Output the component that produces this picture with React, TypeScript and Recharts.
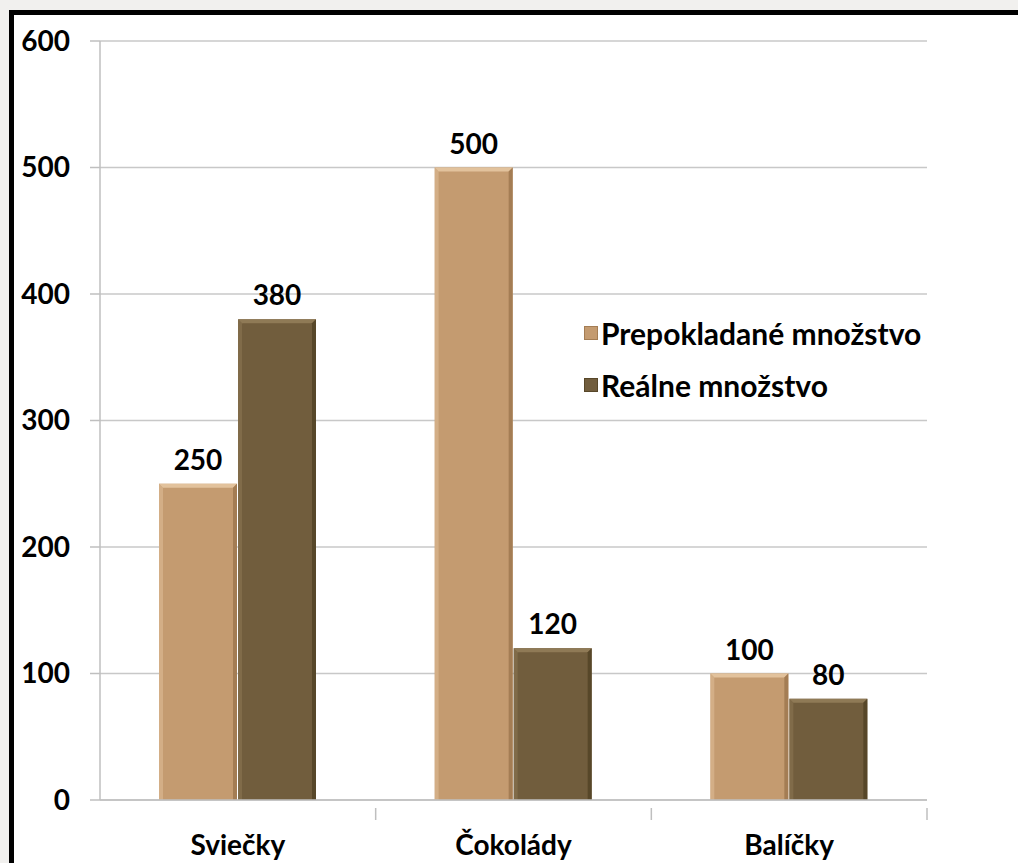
import { BarChart, Bar, XAxis, YAxis, CartesianGrid, LabelList } from "recharts";

const categories = ["Sviečky", "Čokolády", "Balíčky"];
const expected = [250, 500, 100];
const actual = [380, 120, 80];
const yTicks = [0, 100, 200, 300, 400, 500, 600];

const seriesNames = ["Prepokladané množstvo", "Reálne množstvo"];
const palette = [
  { fill: "#c49b70", light: "#e2c29c", dark: "#a47d54" },
  { fill: "#715d3d", light: "#8f7a56", dark: "#574729" },
];

const data = categories.map((name, i) => ({
  name,
  expected: expected[i],
  actual: actual[i],
}));

const W = 1018;
const H = 863;
const margin = { top: 41, right: 91, left: 0, bottom: 0 };
const yAxisWidth = 100;
const bandHalf = (W - margin.right - yAxisWidth) / categories.length / 2;
const font = "Lato, 'Open Sans', sans-serif";
const fs = 28;

const bevel = (colors: { fill: string; light: string; dark: string }) => (props: any) => {
  const { x, y, width, height } = props;
  if (!height || height <= 0) return <g />;
  const b = 4;
  return (
    <g>
      <rect x={x} y={y} width={width} height={height} fill={colors.fill} />
      <polygon
        points={`${x},${y} ${x + width},${y} ${x + width - b},${y + b} ${x + b},${y + b}`}
        fill={colors.light}
      />
      <polygon
        points={`${x},${y} ${x + b},${y + b} ${x + b},${y + height} ${x},${y + height}`}
        fill={colors.light}
        opacity={0.5}
      />
      <polygon
        points={`${x + width},${y} ${x + width},${y + height} ${x + width - b},${y + height} ${x + width - b},${y + b}`}
        fill={colors.dark}
      />
    </g>
  );
};

const CategoryTick = (props: any) => {
  const { x, y, payload } = props;
  return (
    <g>
      <line x1={x + bandHalf} y1={y} x2={x + bandHalf} y2={y + 12} stroke="#bfbfbf" strokeWidth={1.5} />
      <text x={x} y={y + 47} textAnchor="middle" fontSize={fs} fontWeight="bold" fontFamily={font} fill="#000">
        {payload.value}
      </text>
    </g>
  );
};

export default function App() {
  return (
    <div
      style={{
        position: "fixed",
        inset: 0,
        background: "#f1f0ee",
        overflow: "hidden",
        fontFamily: font,
      }}
    >
      <div
        style={{
          position: "absolute",
          left: 9,
          top: 10,
          width: 2000,
          height: 2000,
          background: "#fff",
          border: "5px solid #000",
        }}
      />
      <div style={{ position: "absolute", left: 0, top: 0 }}>
        <BarChart
          width={W}
          height={H}
          data={data}
          margin={margin}
          barGap={1}
          barCategoryGap="21%"
        >
          <CartesianGrid vertical={false} stroke="#c8c8c8" strokeWidth={1.5} />
          <XAxis
            dataKey="name"
            height={H - 800}
            stroke="#bfbfbf"
            strokeWidth={1.5}
            tickLine={false}
            tick={<CategoryTick />}
            interval={0}
          />
          <YAxis
            width={yAxisWidth}
            domain={[0, 600]}
            ticks={yTicks}
            stroke="#bfbfbf"
            strokeWidth={1.5}
            tickSize={10}
            tickMargin={20}
            tick={{ fill: "#000", fontSize: fs, fontWeight: "bold", fontFamily: font }}
          />
          <Bar dataKey="expected" barSize={78} shape={bevel(palette[0])} isAnimationActive={false}>
            <LabelList
              dataKey="expected"
              position="top"
              offset={14}
              fill="#000"
              fontSize={fs}
              fontWeight="bold"
              fontFamily={font}
            />
          </Bar>
          <Bar dataKey="actual" barSize={78} shape={bevel(palette[1])} isAnimationActive={false}>
            <LabelList
              dataKey="actual"
              position="top"
              offset={14}
              fill="#000"
              fontSize={fs}
              fontWeight="bold"
              fontFamily={font}
            />
          </Bar>
        </BarChart>
      </div>
      <div style={{ position: "absolute", left: 584, top: 307 }}>
        {seriesNames.map((name, i) => (
          <div
            key={name}
            style={{ display: "flex", alignItems: "center", height: 52, fontSize: 30, fontWeight: "bold", color: "#000" }}
          >
            <span
              style={{
                display: "inline-block",
                width: 12,
                height: 12,
                background: palette[i].fill,
                border: `1px solid ${palette[i].dark}`,
                marginRight: 3,
              }}
            />
            {name}
          </div>
        ))}
      </div>
    </div>
  );
}
